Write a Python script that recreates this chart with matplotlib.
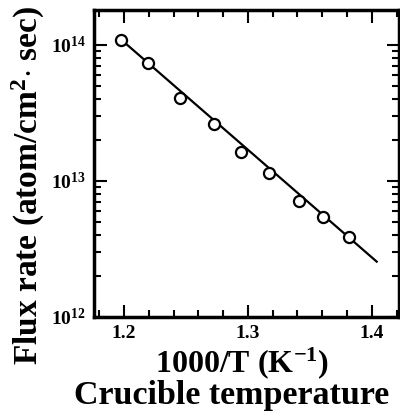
import matplotlib
matplotlib.use("Agg")
import matplotlib.pyplot as plt
from matplotlib.ticker import LogLocator, MultipleLocator, FixedLocator, NullFormatter

plt.rcParams['font.family'] = ['Liberation Serif', 'DejaVu Serif']
plt.rcParams['font.weight'] = 'bold'
plt.rcParams['mathtext.fontset'] = 'custom'
plt.rcParams['mathtext.rm'] = 'Liberation Serif:bold'
plt.rcParams['mathtext.bf'] = 'Liberation Serif:bold'
plt.rcParams['mathtext.it'] = 'Liberation Serif:bold'

# measured points
inv_temp = [1.1976, 1.219, 1.245, 1.2726, 1.2944, 1.3169, 1.341, 1.3605, 1.3815]
flux = [1.09e14, 7.4e13, 4.07e13, 2.62e13, 1.63e13, 1.15e13, 7.1e12, 5.4e12, 3.9e12]

# fitted line end points
fit_x = [1.1995, 1.404]
fit_y = [1.06e14, 2.55e12]

xticks = [1.2, 1.3, 1.4]
xtick_labels = ['1.2', '1.3', '1.4']
yticks = [1e12, 1e13, 1e14]
ytick_labels = [r'$\mathbf{10^{12}}$', r'$\mathbf{10^{13}}$', r'$\mathbf{10^{14}}$']

fig = plt.figure(figsize=(4.0, 4.17), dpi=100)
ax = fig.add_axes([0.235, 0.24, 0.7625, 0.736])

ax.plot(fit_x, fit_y, color='black', lw=1.6, zorder=2)
ax.plot(inv_temp, flux, 'o', ms=8, mfc='white', mec='black', mew=1.6, zorder=3)

ax.set_yscale('log')
ax.set_xlim(1.1758, 1.422)
ax.set_ylim(1e12, 10 ** 14.257)

ax.xaxis.set_major_locator(FixedLocator(xticks))
ax.set_xticklabels(xtick_labels)
ax.xaxis.set_minor_locator(MultipleLocator(0.02))
ax.yaxis.set_major_locator(FixedLocator(yticks))
ax.set_yticklabels(ytick_labels)
ax.yaxis.set_minor_locator(LogLocator(base=10, subs=range(2, 10)))
ax.yaxis.set_minor_formatter(NullFormatter())

for s in ax.spines.values():
    s.set_linewidth(2.5)
ax.tick_params(which='both', direction='in', top=True, right=True, width=1.5)
ax.tick_params(which='major', length=9, labelsize=14, pad=6)
ax.tick_params(which='minor', length=5)

# axis titles placed by hand
fig.text(0.07, 0.555, 'Flux rate (atom/cm$^{2}$$\\cdot$ sec)', rotation=90,
         fontsize=24, fontweight='bold', ha='center', va='center')
fig.text(0.605, 0.13, '1000/T (K$^{-1}$)', fontsize=23, fontweight='bold',
         ha='center', va='center')
fig.text(0.578, 0.052, 'Crucible temperature', fontsize=24.5, fontweight='bold',
         ha='center', va='center')

fig.savefig('out.png', dpi=100)
